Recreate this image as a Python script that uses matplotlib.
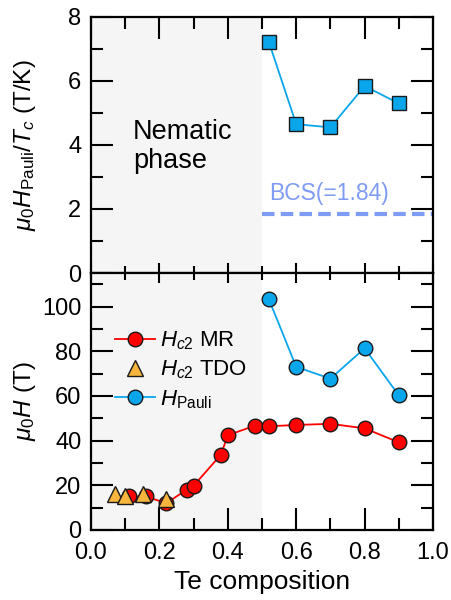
import matplotlib
matplotlib.use("Agg")
import matplotlib.pyplot as plt
from matplotlib.ticker import MultipleLocator

plt.rcParams['font.family'] = ['Liberation Sans', 'DejaVu Sans']
plt.rcParams['mathtext.fontset'] = 'custom'
plt.rcParams['mathtext.rm'] = 'Liberation Sans'
plt.rcParams['mathtext.it'] = 'Liberation Sans:italic'
plt.rcParams['mathtext.bf'] = 'Liberation Sans:bold'

# Data
ratio_x = [0.52, 0.60, 0.70, 0.80, 0.90]
ratio_y = [7.22, 4.65, 4.55, 5.84, 5.30]
bcs_value = 1.84

mr_x = [0.11, 0.16, 0.22, 0.28, 0.30, 0.38, 0.40, 0.48, 0.52, 0.60, 0.70, 0.80, 0.90]
mr_y = [15.0, 15.0, 12.0, 18.0, 19.8, 33.7, 42.4, 46.7, 46.4, 47.0, 47.5, 45.5, 39.2]

tdo_x = [0.069, 0.098, 0.151, 0.219]
tdo_y = [16.0, 15.0, 16.2, 13.8]

pauli_x = [0.52, 0.60, 0.70, 0.80, 0.90]
pauli_y = [103.3, 73.0, 67.7, 81.3, 60.2]

blue = '#0aa6ec'
red = '#ff0000'
orange = '#f7b53e'
bcs_col = '#7f9cf5'
shade = '#f5f5f5'

fig = plt.figure(figsize=(4.52, 6.0), dpi=100)
ax1 = fig.add_axes([0.2013, 0.545, 0.7567, 0.4267])
ax2 = fig.add_axes([0.2013, 0.1167, 0.7567, 0.4283])

fs_tick = 17
fs_label = 17.5
fs_xlabel = 19
fs_leg = 16

for ax in (ax1, ax2):
    ax.axvspan(0, 0.5, color=shade, zorder=0, lw=0)
    ax.set_xlim(0, 1.0)
    ax.xaxis.set_major_locator(MultipleLocator(0.2))
    ax.xaxis.set_minor_locator(MultipleLocator(0.1))
    ax.tick_params(which='both', direction='in', top=True, right=True,
                   width=1.5, labelsize=fs_tick)
    ax.tick_params(axis='x', which='both', pad=9)
    ax.tick_params(axis='y', which='both', pad=7)
    ax.tick_params(which='major', length=15.5)
    ax.tick_params(which='minor', length=8.5)
    for s in ax.spines.values():
        s.set_linewidth(1.6)

# Top panel
ax1.set_ylim(0, 8)
ax1.yaxis.set_major_locator(MultipleLocator(2))
ax1.yaxis.set_minor_locator(MultipleLocator(1))
ax1.tick_params(labelbottom=False)
ax1.plot(ratio_x, ratio_y, '-s', color=blue, mfc=blue, mec='#1a1a1a',
         mew=1.0, ms=9.5, lw=1.3, zorder=3)
ax1.plot([0.5, 1.0], [bcs_value, bcs_value], '--', color=bcs_col, lw=3,
         dashes=(3, 1.5), zorder=2)
ax1.text(0.52, 2.12, 'BCS(=1.84)', color=bcs_col, fontsize=16.5, va='bottom', ha='left')
ax1.text(0.123, 3.95, 'Nematic\nphase', fontsize=19.5, va='center', ha='left',
         linespacing=1.12)
ax1.set_ylabel(r'$\mu_0H_{\rm Pauli}/T_c$ (T/K)', fontsize=fs_label)
ax1.yaxis.set_label_coords(-0.155, 0.5)

# Bottom panel
ax2.set_ylim(0, 115)
ax2.yaxis.set_major_locator(MultipleLocator(20))
ax2.yaxis.set_minor_locator(MultipleLocator(10))
ax2.plot(mr_x, mr_y, '-o', color=red, mfc=red, mec='#1a1a1a', mew=1.0,
         ms=10.5, lw=1.3, zorder=3, label=r'$H_{c2}$ MR')
ax2.plot(tdo_x, tdo_y, '^', color=orange, mfc=orange, mec='#1a1a1a', mew=1.0,
         ms=11, lw=0, zorder=4, label=r'$H_{c2}$ TDO')
ax2.plot(pauli_x, pauli_y, '-o', color=blue, mfc=blue, mec='#1a1a1a', mew=1.0,
         ms=10.5, lw=1.3, zorder=3, label=r'$H_{\rm Pauli}$')
ax2.set_ylabel(r'$\mu_0H$ (T)', fontsize=fs_label)
ax2.yaxis.set_label_coords(-0.155, 0.5)
ax2.set_xlabel('Te composition', fontsize=fs_xlabel, labelpad=4)
leg = ax2.legend(loc='upper left', bbox_to_anchor=(0.07, 0.78), frameon=False,
                 fontsize=fs_leg, handlelength=1.8, handletextpad=0.25,
                 labelspacing=0.3, borderaxespad=0.0, borderpad=0.0)

fig.canvas.draw()
# shorter ticks at the junction between the two panels
for t in ax1.xaxis.get_major_ticks():
    t.tick1line.set_markersize(7.5)
for t in ax1.xaxis.get_minor_ticks():
    t.tick1line.set_markersize(5)
for t in ax2.xaxis.get_major_ticks():
    t.tick2line.set_markersize(7.5)
for t in ax2.xaxis.get_minor_ticks():
    t.tick2line.set_markersize(5)

fig.savefig('out.png', dpi=100)
